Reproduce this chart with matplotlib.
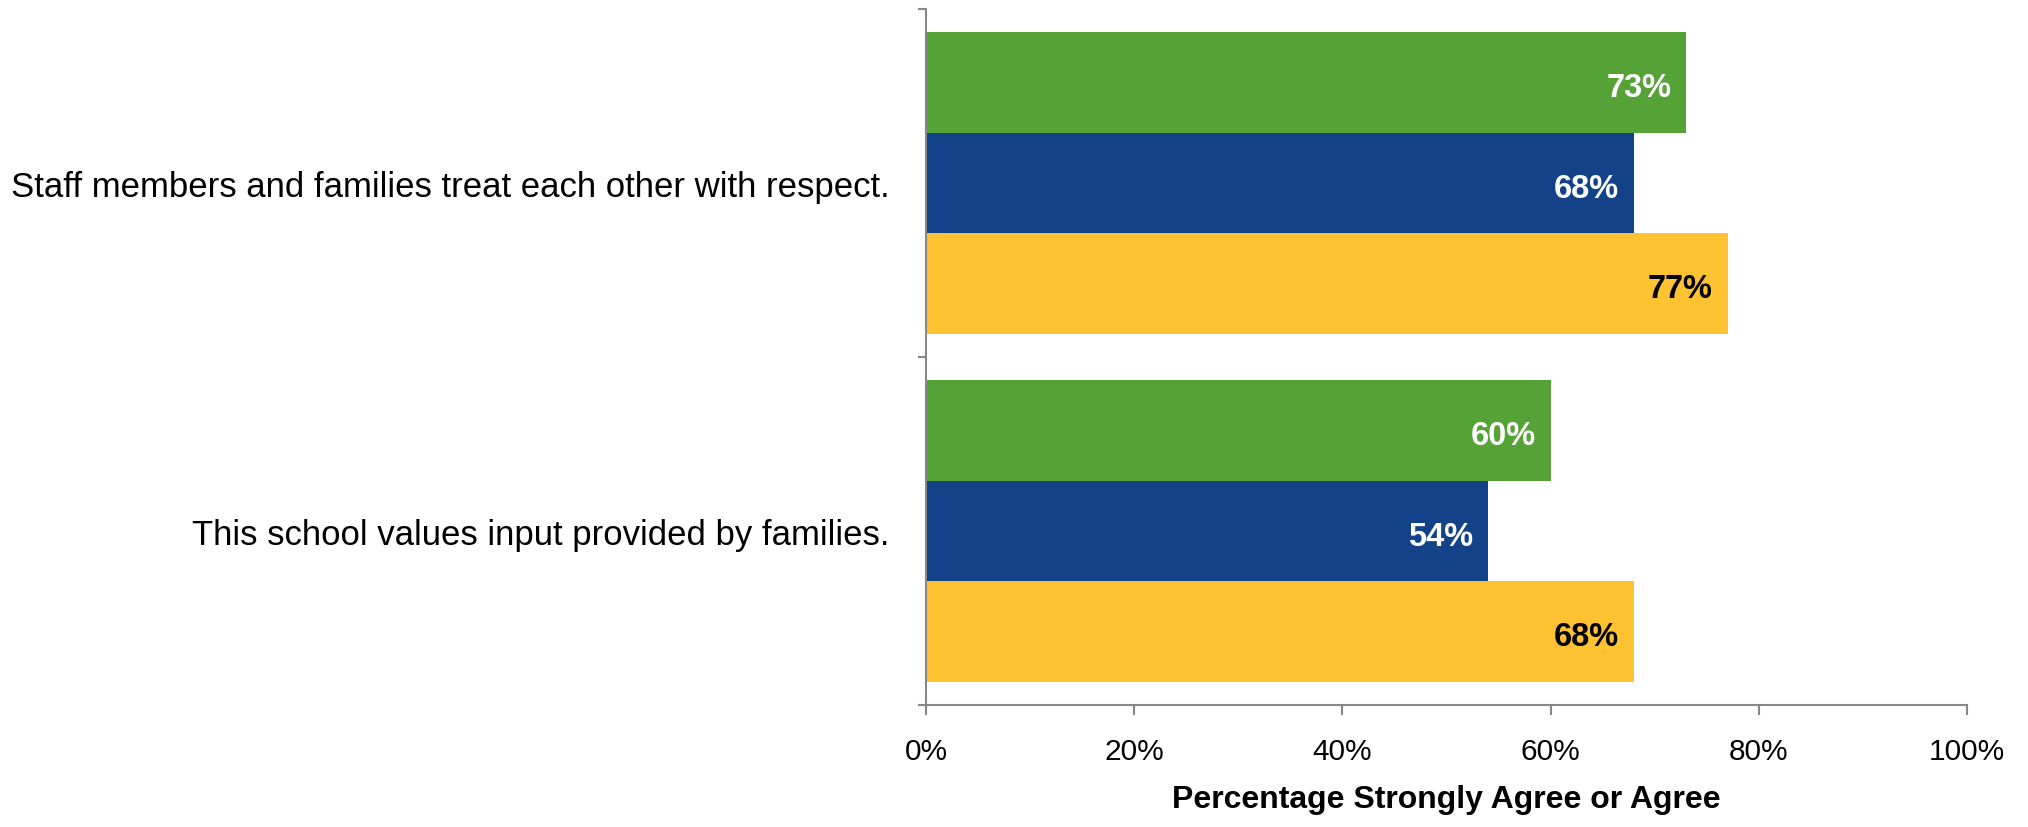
import matplotlib.pyplot as plt
import numpy as np

# survey items (top to bottom)
categories = [
    "Staff members and families treat each other with respect.",
    "This school values input provided by families.",
]
green_vals = [73, 60]
blue_vals = [68, 54]
yellow_vals = [77, 68]
xticks = [0, 20, 40, 60, 80, 100]

series = [green_vals, blue_vals, yellow_vals]
colors = ["#55A237", "#134289", "#FFC232"]
label_colors = ["white", "white", "black"]

plt.rcParams['font.family'] = 'Liberation Sans'

fig = plt.figure(figsize=(20.28, 8.28), dpi=100)
ax = fig.add_axes([0.4566, 0.1473, 0.9699 - 0.4566, 0.9879 - 0.1473])

y = np.arange(len(categories))
h = 0.289
offsets = [-h, 0, h]
for vals, off, col, lcol in zip(series, offsets, colors, label_colors):
    bars = ax.barh(y + off, vals, height=h, color=col)
    for b, v in zip(bars, vals):
        ax.text(v - 1.4, b.get_y() + h / 2 + 0.015, f"{v}%", ha='right', va='center',
                color=lcol, fontsize=23.5, fontweight='bold')

ax.set_ylim(len(categories) - 0.5, -0.5)
ax.set_xlim(0, 100)
ax.set_yticks(y)
ax.set_yticklabels(categories, fontsize=25)
ax.set_yticks([-0.5, 0.5, 1.5], minor=True)
ax.tick_params(axis='y', which='major', length=0, pad=26)
ax.tick_params(axis='y', which='minor', length=6, color='#888888', width=1.5)

ax.set_xticks(xticks)
ax.set_xticklabels([f"{t}%" for t in xticks], fontsize=21.5)
ax.tick_params(axis='x', length=7, color='#888888', width=1.5, pad=16)
ax.set_xlabel("Percentage Strongly Agree or Agree", fontsize=23, fontweight='bold', labelpad=14)

for s in ['top', 'right']:
    ax.spines[s].set_visible(False)
for s in ['left', 'bottom']:
    ax.spines[s].set_color('#888888')
    ax.spines[s].set_linewidth(1.5)

plt.savefig("out.png", dpi=100)
